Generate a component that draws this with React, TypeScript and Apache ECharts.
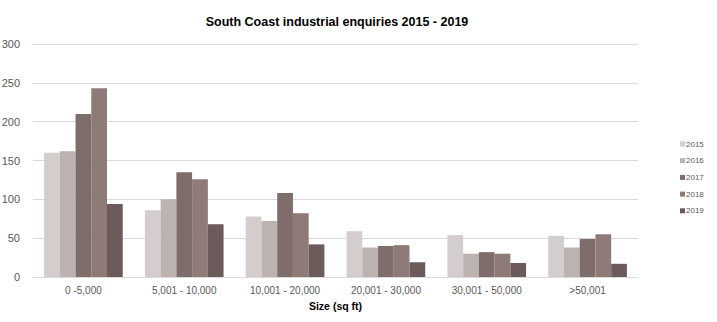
import React, { useEffect, useRef } from "react";
import * as echarts from "echarts";

const categories = ["0 -5,000", "5,001 - 10,000", "10,001 - 20,000", "20,001 - 30,000", "30,001 - 50,000", ">50,001"];
const years = ["2015", "2016", "2017", "2018", "2019"];
const v2015 = [160, 86, 78, 59, 54, 53];
const v2016 = [162, 100, 72, 38, 30, 38];
const v2017 = [210, 135, 108, 40, 32, 49];
const v2018 = [243, 126, 82, 41, 30, 55];
const v2019 = [94, 68, 42, 19, 18, 17];
const seriesValues = [v2015, v2016, v2017, v2018, v2019];
const colors = ["#d3cdcd", "#bcb2b0", "#7f6d6c", "#8e7a77", "#6b5b5b"];

export default function App() {
  const ref = useRef<HTMLDivElement>(null);
  useEffect(() => {
    if (!ref.current) return;
    const chart = echarts.init(ref.current, null, { renderer: "svg" });
    chart.setOption({
      animation: false,
      backgroundColor: "#ffffff",
      title: {
        text: "South Coast industrial enquiries 2015 - 2019",
        left: 332,
        top: 10,
        textAlign: "center",
        textStyle: {
          fontFamily: "'Liberation Sans', sans-serif",
          fontSize: 12.5,
          fontWeight: "bold",
          color: "#000000",
        },
      },
      legend: {
        orient: "vertical",
        left: 675,
        top: 134,
        itemWidth: 5,
        itemHeight: 5,
        itemGap: 6.7,
        icon: "rect",
        textStyle: { fontSize: 8, lineHeight: 10, color: "#595959", padding: [0, 0, 0, -4], fontFamily: "'Liberation Sans', sans-serif" },
        data: years,
      },
      grid: { left: 33, right: 79, top: 44, bottom: 45, outerBoundsMode: "none", containLabel: false },
      xAxis: {
        type: "category",
        data: categories,
        axisTick: { show: false },
        axisLine: { lineStyle: { color: "#d9d9d9" } },
        axisLabel: { fontSize: 10, color: "#595959", margin: 8, fontFamily: "'Liberation Sans', sans-serif" },
        name: "Size (sq ft)",
        nameLocation: "middle",
        nameGap: 23,
        nameTextStyle: {
          fontSize: 10.5,
          fontWeight: "bold",
          color: "#000000",
          fontFamily: "'Liberation Sans', sans-serif",
        },
      },
      yAxis: {
        type: "value",
        min: 0,
        max: 300,
        interval: 50,
        axisLine: { show: false },
        axisTick: { show: false },
        splitLine: { lineStyle: { color: "#d9d9d9" } },
        axisLabel: { fontSize: 11, color: "#595959", margin: 13, fontFamily: "'Liberation Sans', sans-serif" },
      },
      series: years.map((y, i) => ({
        name: y,
        type: "bar",
        data: seriesValues[i],
        barGap: "0%",
        barCategoryGap: "22%",
        itemStyle: { color: colors[i] },
      })),
    });
    return () => chart.dispose();
  }, []);
  return <div ref={ref} style={{ width: 717, height: 322, position: "absolute", left: 0, top: 0 }} />;
}
